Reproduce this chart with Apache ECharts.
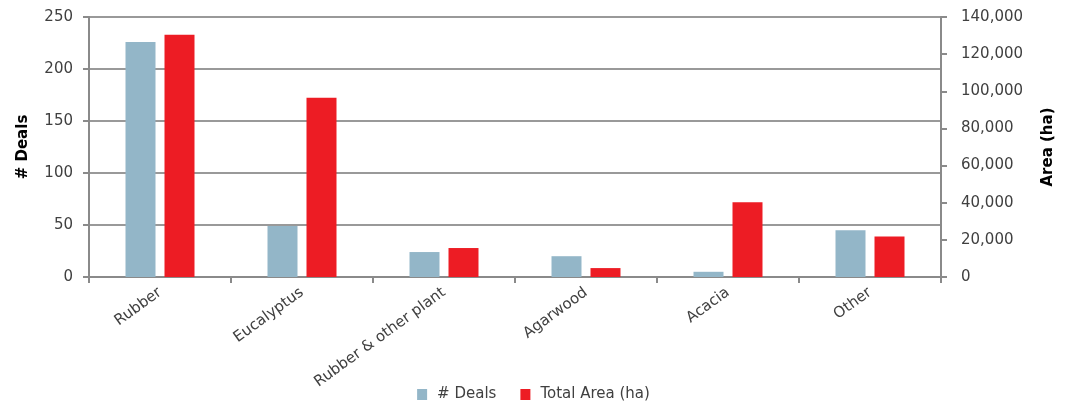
<!DOCTYPE html>
<html>
<head>
<meta charset="utf-8">
<title>Deals and area by crop</title>
<script src="https://cdn.jsdelivr.net/npm/echarts@6/dist/echarts.min.js"></script>
<style>
    html, body { margin: 0; padding: 0; background: #fff; }
    #chart { width: 1067px; height: 405px; }
</style>
</head>
<body>
<div id="chart"></div>
<script>
// categories along the bottom
var crops = ['Rubber', 'Eucalyptus', 'Rubber & other plant', 'Agarwood', 'Acacia', 'Other'];
// number of deals (left axis)
var deals = [226, 49, 24, 20, 5, 45];
// total area in hectares (right axis)
var areaHa = [130500, 96500, 15600, 4800, 40300, 21800];
// tick labels
var dealTicks = [0, 50, 100, 150, 200, 250];
var areaTicks = [0, 20000, 40000, 60000, 80000, 100000, 120000, 140000];

var font = 'DejaVu Sans';
var axisGray = '#8a8a8a';

var myChart = echarts.init(document.getElementById('chart'));

var option = {
    animation: false,
    textStyle: { fontFamily: font },
    grid: { left: 89, right: 126, top: 17, bottom: 128 },
    legend: {
        bottom: -2,
        left: 'center',
        icon: 'rect',
        itemWidth: 10,
        itemHeight: 11,
        itemGap: 24,
        textStyle: { fontFamily: font, fontSize: 15, color: '#404040', padding: [0, 0, 0, 5] },
        data: ['# Deals', 'Total Area (ha)']
    },
    xAxis: {
        type: 'category',
        data: crops,
        axisLine: { lineStyle: { color: axisGray, width: 2 } },
        axisTick: { show: true, length: 6, lineStyle: { color: axisGray, width: 2 } },
        axisLabel: {
            rotate: 36,
            margin: 14,
            fontFamily: font,
            fontSize: 15,
            color: '#404040'
        }
    },
    yAxis: [
        {
            type: 'value',
            min: dealTicks[0],
            max: dealTicks[dealTicks.length - 1],
            interval: dealTicks[1] - dealTicks[0],
            name: '# Deals',
            nameLocation: 'middle',
            nameGap: 58,
            nameTextStyle: { fontFamily: font, fontSize: 15, fontWeight: 'bold', color: '#000' },
            axisLine: { show: true, lineStyle: { color: axisGray, width: 2 } },
            axisTick: { show: true, length: 6, lineStyle: { color: axisGray, width: 2 } },
            axisLabel: { margin: 16, fontFamily: font, fontSize: 15, color: '#404040' },
            splitLine: { lineStyle: { color: '#999', width: 2 } }
        },
        {
            type: 'value',
            position: 'right',
            min: areaTicks[0],
            max: areaTicks[areaTicks.length - 1],
            interval: areaTicks[1] - areaTicks[0],
            name: 'Area (ha)',
            nameLocation: 'middle',
            nameGap: 100,
            nameRotate: 90,
            nameTextStyle: { fontFamily: font, fontSize: 15, fontWeight: 'bold', color: '#000' },
            axisLine: { show: true, lineStyle: { color: axisGray, width: 2 } },
            axisTick: { show: true, length: 6, lineStyle: { color: axisGray, width: 2 } },
            axisLabel: {
                margin: 20,
                fontFamily: font,
                fontSize: 15,
                color: '#404040',
                formatter: function (v) { return v.toLocaleString('en-US'); }
            },
            splitLine: { show: false }
        }
    ],
    series: [
        {
            name: '# Deals',
            type: 'bar',
            yAxisIndex: 0,
            data: deals,
            barWidth: 30,
            barGap: '30%',
            itemStyle: { color: '#93b6c8' }
        },
        {
            name: 'Total Area (ha)',
            type: 'bar',
            yAxisIndex: 1,
            data: areaHa,
            barWidth: 30,
            itemStyle: { color: '#ed1c24' }
        }
    ]
};

myChart.setOption(option);
</script>
</body>
</html>
